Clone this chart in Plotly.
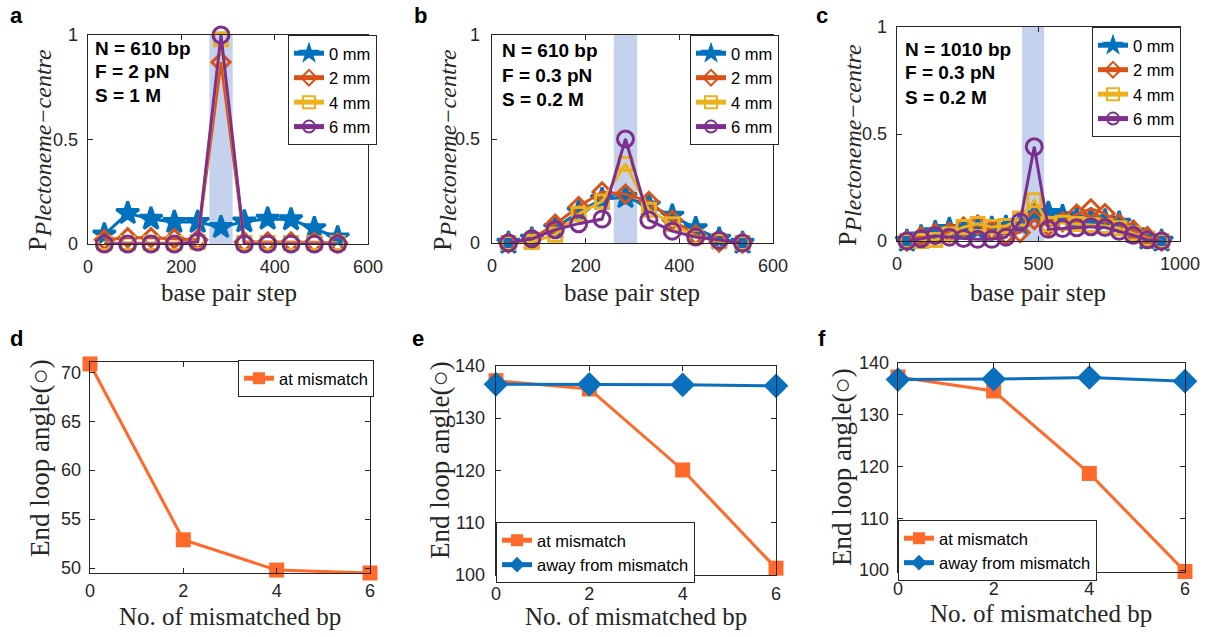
import plotly.graph_objects as go

W, H = 1208, 637

# ---------------- data ----------------
bp_ab = [35, 85, 135, 185, 235, 285, 335, 385, 435, 485, 535]
a_0mm = [0.045, 0.147, 0.12, 0.105, 0.105, 0.08, 0.107, 0.12, 0.117, 0.075, 0.03]
a_2mm = [0.02, 0.03, 0.03, 0.025, 0.02, 0.87, 0.01, 0.01, 0.01, 0.008, 0.005]
a_4mm = [0.005, 0.005, 0.005, 0.005, 0.01, 0.98, 0.005, 0.005, 0.005, 0.005, 0.005]
a_6mm = [0.0, 0.0, 0.0, 0.0, 0.01, 1.0, 0.0, 0.0, 0.0, 0.0, 0.0]

b_0mm = [0.0, 0.02, 0.07, 0.15, 0.21, 0.22, 0.18, 0.13, 0.07, 0.02, 0.0]
b_2mm = [0.0, 0.02, 0.09, 0.175, 0.245, 0.235, 0.2, 0.11, 0.04, 0.005, 0.0]
b_4mm = [0.0, 0.005, 0.04, 0.14, 0.2, 0.38, 0.16, 0.09, 0.03, 0.01, 0.0]
b_6mm = [0.0, 0.02, 0.064, 0.093, 0.115, 0.5, 0.11, 0.057, 0.029, 0.013, 0.0]

bp_c = [35, 85, 135, 185, 235, 285, 335, 385, 435, 485, 535, 585, 635, 685,
        735, 785, 835, 885, 935]
c_0mm = [0.0, 0.02, 0.04, 0.055, 0.05, 0.055, 0.06, 0.065, 0.08, 0.12, 0.13,
         0.115, 0.1, 0.1, 0.095, 0.085, 0.04, 0.01, 0.0]
c_2mm = [0.0, 0.02, 0.035, 0.04, 0.065, 0.075, 0.05, 0.03, 0.04, 0.1, 0.07,
         0.09, 0.125, 0.15, 0.128, 0.08, 0.05, 0.02, 0.0]
c_4mm = [0.0, 0.0, 0.005, 0.03, 0.065, 0.08, 0.065, 0.07, 0.105, 0.19, 0.08,
         0.085, 0.08, 0.075, 0.07, 0.06, 0.035, 0.01, 0.0]
c_6mm = [0.0, 0.01, 0.025, 0.018, 0.012, 0.008, 0.008, 0.018, 0.089, 0.44,
         0.055, 0.058, 0.062, 0.067, 0.063, 0.046, 0.027, 0.006, 0.0]

mismatch_bp = [0, 2, 4, 6]
d_at = [70.9, 52.9, 49.8, 49.5]
e_at = [137.2, 135.6, 120.1, 101.3]
e_away = [136.5, 136.5, 136.4, 136.2]
f_at = [137.3, 134.6, 118.7, 99.8]
f_away = [136.8, 136.9, 137.2, 136.5]

series_names = ["0 mm", "2 mm", "4 mm", "6 mm"]
shade_ab = [260, 310]
shade_c = [442, 520]

# ---------------- style ----------------
SANS = "Liberation Sans, Arial, sans-serif"
SERIF = "Liberation Serif, Times New Roman, serif"
INK = "#262626"
cols = ["#0072BD", "#D95319", "#EDB120", "#7E2F8E"]
syms = ["star", "diamond-open", "square-open", "circle-open"]
msizes = [17, 14, 13, 16]
ORANGE = "#FF6A2B"
BLUE = "#0A6FBD"


def px_x(p):
    return p / W


def px_y(p):
    return 1 - p / H


# panel boxes in pixel coords: left, right, top, bottom
boxes = {
    1: (88, 368, 35, 244),
    2: (492, 773, 35, 243),
    3: (897, 1180, 27, 241),
    4: (90, 370, 362, 573),
    5: (496, 776, 366, 575),
    6: (898, 1185, 363, 572),
}

fig = go.Figure()


def add_group(k, xs, ys_list):
    for i, ys in enumerate(ys_list):
        fig.add_trace(go.Scatter(
            x=xs, y=ys, name=series_names[i], mode="lines+markers",
            line=dict(color=cols[i], width=3),
            marker=dict(symbol=syms[i], size=msizes[i], color=cols[i],
                        line=dict(color=cols[i], width=3)),
            xaxis="x" if k == 1 else f"x{k}", yaxis="y" if k == 1 else f"y{k}",
            legend="legend" if k == 1 else f"legend{k}", cliponaxis=False,
        ))


add_group(1, bp_ab, [a_0mm, a_2mm, a_4mm, a_6mm])
add_group(2, bp_ab, [b_0mm, b_2mm, b_4mm, b_6mm])
add_group(3, bp_c, [c_0mm, c_2mm, c_4mm, c_6mm])


def add_angle(k, ys, name, color, symbol, size):
    fig.add_trace(go.Scatter(
        x=mismatch_bp, y=ys, name=name, mode="lines+markers",
        line=dict(color=color, width=3),
        marker=dict(symbol=symbol, size=size, color=color),
        xaxis=f"x{k}", yaxis=f"y{k}", legend=f"legend{k}", cliponaxis=False,
    ))


add_angle(4, d_at, "at mismatch", ORANGE, "square", 15)
add_angle(5, e_at, "at mismatch", ORANGE, "square", 15)
add_angle(5, e_away, "away from mismatch", BLUE, "diamond", 19)
add_angle(6, f_at, "at mismatch", ORANGE, "square", 15)
add_angle(6, f_away, "away from mismatch", BLUE, "diamond", 19)

# ---------------- axes ----------------
xranges = {1: [0, 600], 2: [0, 600], 3: [0, 1000], 4: [0, 6], 5: [0, 6], 6: [0, 6]}
xticks = {1: [0, 200, 400, 600], 2: [0, 200, 400, 600], 3: [0, 500, 1000],
          4: [0, 2, 4, 6], 5: [0, 2, 4, 6], 6: [0, 2, 4, 6]}
yranges = {1: [0, 1], 2: [0, 1], 3: [0, 1], 4: [49.5, 71.1], 5: [100, 140],
           6: [99.7, 140]}
yticks = {1: [0, 0.5, 1], 2: [0, 0.5, 1], 3: [0, 0.5, 1],
          4: [50, 55, 60, 65, 70], 5: [100, 110, 120, 130, 140],
          6: [100, 110, 120, 130, 140]}
x_standoff = {1: 6, 2: 6, 3: 6, 4: 1, 5: 2, 6: 0}
ylabel_gap = {1: 9, 2: 11, 3: 9, 4: 8, 5: 10, 6: 8}

layout_axes = {}
ann = []
for k, (l, r, t, b) in boxes.items():
    common = dict(showline=True, linecolor=INK, linewidth=1.3, mirror="ticks",
                  ticks="inside", ticklen=5, tickwidth=1.3, tickcolor=INK,
                  showgrid=False, zeroline=False,
                  tickfont=dict(family=SANS, size=18, color=INK))
    xa = dict(common, domain=[px_x(l), px_x(r)], range=xranges[k],
              tickvals=xticks[k], ticklabelstandoff=x_standoff[k],
              anchor="y" if k == 1 else f"y{k}")
    ya = dict(common, domain=[px_y(b), px_y(t)], range=yranges[k],
              tickvals=yticks[k], showticklabels=False,
              anchor="x" if k == 1 else f"x{k}")
    layout_axes["xaxis" if k == 1 else f"xaxis{k}"] = xa
    layout_axes["yaxis" if k == 1 else f"yaxis{k}"] = ya
    # y tick labels, placed on the axis scale
    for v in yticks[k]:
        ann.append(dict(text=f"{v:g}", x=px_x(l - ylabel_gap[k]), xref="paper",
                        y=v, yref="y" if k == 1 else f"y{k}", xanchor="right",
                        yanchor="middle", showarrow=False, borderpad=0,
                        font=dict(family=SANS, size=18, color=INK)))

# ---------------- legends ----------------
legend_pos = {1: (288, 35), 2: (690, 35), 3: (1092, 27), 4: (238, 360),
              5: (496, 522), 6: (898, 520)}
legends = {}
for k, (lx, ty) in legend_pos.items():
    legends["legend" if k == 1 else f"legend{k}"] = dict(
        x=px_x(lx), y=px_y(ty), xanchor="left", yanchor="top",
        bgcolor="white", bordercolor=INK, borderwidth=1,
        font=dict(family=SANS, size=16.5, color="black"),
        itemsizing="constant", tracegroupgap=0, itemwidth=30,
    )

# ---------------- shapes ----------------
shapes = []
for k, sh in [(1, shade_ab), (2, shade_ab), (3, shade_c)]:
    xr = "x" if k == 1 else f"x{k}"
    yr = "y domain" if k == 1 else f"y{k} domain"
    shapes.append(dict(type="rect", xref=xr, yref=yr, x0=sh[0], x1=sh[1],
                       y0=0, y1=1, fillcolor="rgba(115,147,214,0.42)",
                       line=dict(width=0), layer="below"))

# ---------------- annotations ----------------
for lab, x, y in [("a", 16, 15), ("b", 420, 15), ("c", 822, 15),
                  ("d", 16, 338), ("e", 418, 338), ("f", 822, 338)]:
    ann.append(dict(text=f"<b>{lab}</b>", x=px_x(x), y=px_y(y), xref="paper",
                    yref="paper", showarrow=False, xanchor="center",
                    yanchor="middle", font=dict(family=SANS, size=22, color="black")))

info = [
    (93, [48, 72, 96], ["N = 610 bp", "F = 2 pN", "S = 1 M"]),
    (500, [51, 75, 99], ["N = 610 bp", "F = 0.3 pN", "S = 0.2 M"]),
    (903, [50, 73, 97], ["N = 1010 bp", "F = 0.3 pN", "S = 0.2 M"]),
]
for x, ys, lines in info:
    for y, txt in zip(ys, lines):
        ann.append(dict(text=f"<b>{txt}</b>", x=px_x(x), y=px_y(y), xref="paper",
                        yref="paper", showarrow=False, xanchor="left",
                        yanchor="middle",
                        font=dict(family=SANS, size=19, color="black")))

for cx in [229, 632, 1038]:
    ann.append(dict(text="base pair step", x=px_x(cx), y=px_y(292), xref="paper",
                    yref="paper", showarrow=False, xanchor="center",
                    yanchor="middle", font=dict(family=SERIF, size=25, color=INK)))
for cx, cy in [(230, 616), (636, 616), (1041, 613)]:
    ann.append(dict(text="No. of mismatched bp", x=px_x(cx), y=px_y(cy),
                    xref="paper", yref="paper", showarrow=False,
                    xanchor="center", yanchor="middle",
                    font=dict(family=SERIF, size=25, color=INK)))
ptitle = ("P<sub><span style='font-size:24px'><i>Plectoneme−centre</i></span></sub>")
for cx, cy in [(39, 150), (444, 150), (849, 145)]:
    ann.append(dict(text=ptitle, x=px_x(cx),
                    y=px_y(cy), xref="paper", yref="paper", showarrow=False,
                    textangle=-90, xanchor="center", yanchor="middle",
                    font=dict(family=SERIF, size=26, color=INK)))
for cx, cy in [(40, 458), (440, 460), (842, 467)]:
    ann.append(dict(text="End loop angle(○)", x=px_x(cx), y=px_y(cy),
                    xref="paper", yref="paper", showarrow=False, textangle=-90,
                    xanchor="center", yanchor="middle",
                    font=dict(family=SERIF, size=27, color=INK)))

fig.update_layout(
    width=W, height=H, margin=dict(l=0, r=0, t=0, b=0),
    template="none", plot_bgcolor="white", paper_bgcolor="white",
    showlegend=True, shapes=shapes, annotations=ann,
    **layout_axes, **legends,
)

fig.write_html("out.html", config={"displayModeBar": False},
               post_script="document.body.style.margin='0';"
                           "document.body.style.overflow='hidden';")
